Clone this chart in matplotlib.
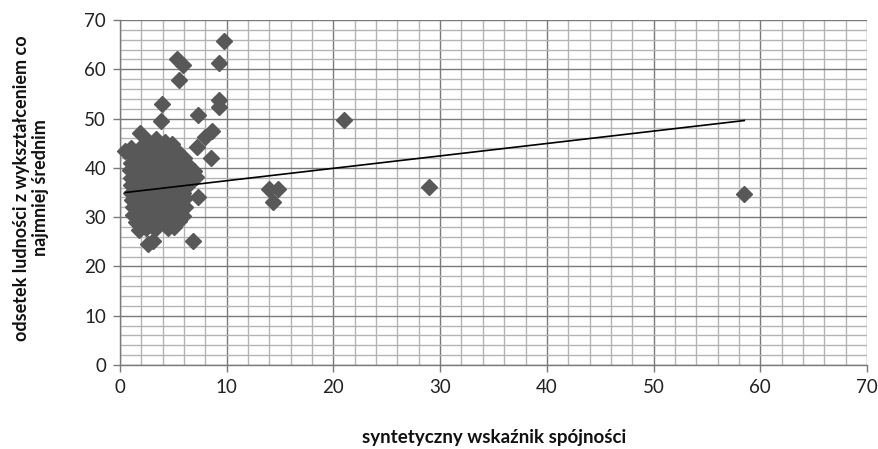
import matplotlib
matplotlib.use("Agg")
import matplotlib.pyplot as plt
from matplotlib.ticker import MultipleLocator

plt.rcParams['font.family'] = ['Lato', 'DejaVu Sans']

# ---- data ----
# dense cluster, row by row
cluster_x = [
    2.6, 3.4, 4.2, 4.9,
    1.0, 2.0, 3.0, 3.8, 4.6, 5.3,
    1.2, 1.9, 2.6, 3.3, 4.0, 4.7, 5.4, 6.0,
    1.0, 1.7, 2.4, 3.1, 3.8, 4.5, 5.2, 5.9, 6.4,
    0.9, 1.6, 2.3, 3.0, 3.7, 4.4, 5.1, 5.8, 6.4, 6.9,
    1.0, 1.7, 2.4, 3.1, 3.8, 4.5, 5.2, 5.9, 6.6, 7.1,
    1.0, 1.7, 2.4, 3.1, 3.8, 4.5, 5.2, 5.9, 6.5,
    1.0, 1.7, 2.4, 3.1, 3.8, 4.5, 5.2, 5.9,
    1.1, 1.8, 2.5, 3.2, 3.9, 4.6, 5.3, 6.1,
    1.2, 1.9, 2.6, 3.3, 4.0, 4.7, 5.4, 6.1,
    1.2, 1.9, 2.6, 3.3, 4.0, 4.7, 5.4, 5.9,
    1.5, 2.2, 2.9, 3.6, 4.3, 5.0, 5.5,
    1.8, 2.4, 3.3, 4.5, 5.1,
    2.6, 3.1,
]
cluster_y = [
    45.5, 45.8, 45.2, 44.8,
    44.0, 44.2, 44.0, 44.3, 43.8, 43.5,
    42.5, 42.5, 42.5, 42.5, 42.5, 42.5, 42.3, 42.0,
    41.0, 41.0, 41.0, 41.0, 41.0, 41.0, 41.0, 40.8, 40.5,
    39.5, 39.5, 39.5, 39.5, 39.5, 39.5, 39.5, 39.5, 39.5, 39.3,
    38.0, 38.0, 38.0, 38.0, 38.0, 38.0, 38.0, 38.0, 38.0, 38.2,
    36.5, 36.5, 36.5, 36.5, 36.5, 36.5, 36.5, 36.5, 36.8,
    35.0, 35.0, 35.0, 35.0, 35.0, 35.0, 35.0, 35.0,
    33.5, 33.5, 33.5, 33.5, 33.5, 33.5, 33.5, 33.8,
    32.0, 32.0, 32.0, 32.0, 32.0, 32.0, 32.0, 32.0,
    30.5, 30.5, 30.5, 30.5, 30.5, 30.5, 30.5, 30.2,
    29.0, 29.0, 29.0, 29.0, 29.0, 29.0, 29.3,
    27.3, 27.8, 27.5, 27.8, 28.0,
    24.5, 25.2,
]
# scattered points
outlier_x = [0.5, 1.9, 3.8, 3.9, 5.3, 5.9, 5.5, 7.3, 8.0, 8.6, 7.2, 8.5,
             9.3, 9.3, 9.3, 9.7, 7.3, 6.8, 14.0, 14.8, 14.3, 21.0, 29.0, 58.5]
outlier_y = [43.5, 47.0, 49.5, 53.0, 62.0, 60.8, 57.8, 50.8, 46.3, 47.5, 44.2, 42.0,
             52.4, 53.8, 61.2, 65.7, 34.0, 25.2, 35.8, 35.8, 33.0, 49.7, 36.2, 34.6]

# linear trend line end points
trend_x = [0.5, 58.5]
trend_y = [35.0, 49.6]

x_label = "syntetyczny wskaźnik spójności"
y_label = "odsetek ludności z wykształceniem co\nnajmniej średnim"

# ---- figure ----
fig = plt.figure(figsize=(8.79, 4.49), dpi=100)
ax = fig.add_axes([120 / 879, 1 - 365 / 449, (867 - 120) / 879, (365 - 20) / 449])

ax.set_xlim(0, 70)
ax.set_ylim(0, 70)
ax.xaxis.set_major_locator(MultipleLocator(10))
ax.yaxis.set_major_locator(MultipleLocator(10))
ax.xaxis.set_minor_locator(MultipleLocator(2))
ax.yaxis.set_minor_locator(MultipleLocator(2))

ax.grid(which='minor', color='#b4b4b4', linewidth=1.0, zorder=0)
ax.grid(which='major', color='#7a7a7a', linewidth=1.0, zorder=0)
ax.set_axisbelow(True)

mcol = '#585858'
ax.plot(cluster_x, cluster_y, linestyle='none', marker='D', markersize=8.5,
        color=mcol, markeredgecolor=mcol, zorder=3, clip_on=False)
ax.plot(outlier_x, outlier_y, linestyle='none', marker='D', markersize=8.5,
        color=mcol, markeredgecolor=mcol, zorder=3, clip_on=False)
ax.plot(trend_x, trend_y, color='black', linewidth=1.2, zorder=4)

for s in ['top', 'right']:
    ax.spines[s].set_visible(False)
for s in ['left', 'bottom']:
    ax.spines[s].set_color('#7a7a7a')
    ax.spines[s].set_linewidth(1.0)

ax.tick_params(which='major', direction='out', length=5, width=1.0, color='#7a7a7a',
               labelsize=13.5, labelcolor='#222222', pad=5)
ax.tick_params(which='minor', length=0)

fig.text(494 / 879, 1 - 437 / 449, x_label, ha='center', va='center',
         fontsize=13.5, fontweight='bold', color='#111111')
fig.text(31 / 879, 1 - 188 / 449, y_label, ha='center', va='center', rotation=90,
         fontsize=13, fontweight='bold', color='#111111', linespacing=1.2)

fig.savefig('out.png', dpi=100)
